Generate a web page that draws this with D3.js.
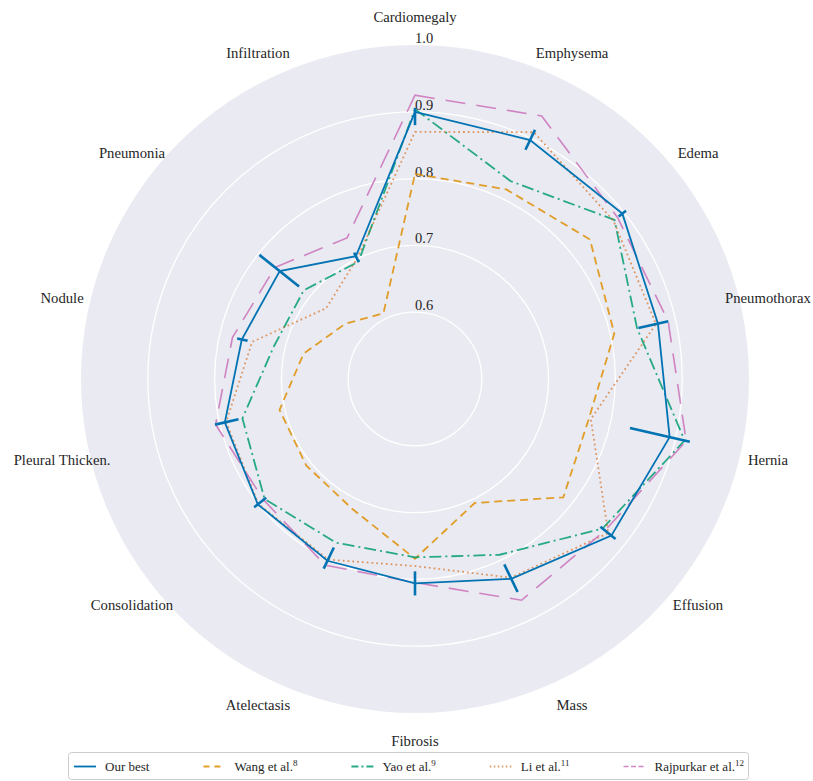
<!DOCTYPE html>
<html>
<head>
<meta charset="utf-8">
<script src="https://cdn.jsdelivr.net/npm/d3@7"></script>
<style>
  html, body { margin: 0; padding: 0; background: #ffffff; }
  svg { display: block; }
</style>
</head>
<body>
<svg id="chart" width="813" height="781"></svg>
<script>
// Disease categories, clockwise from the top
const categories = ["Cardiomegaly", "Emphysema", "Edema", "Pneumothorax", "Hernia", "Effusion",
  "Mass", "Fibrosis", "Atelectasis", "Consolidation", "Pleural Thicken.", "Nodule",
  "Pneumonia", "Infiltration"];

// AUC per category
const ourBest      = [0.900, 0.897, 0.897, 0.873, 0.891, 0.876, 0.832, 0.806, 0.802, 0.801, 0.792, 0.766, 0.759, 0.704];
const ourBestLower = [0.020, 0.016, 0.007, 0.030, 0.061, 0.021, 0.024, 0.018, 0.022, 0.016, 0.021, 0.009, 0.037, 0.010];
const ourBestUpper = [0.006, 0.017, 0.007, 0.016, 0.031, 0.008, 0.022, 0.018, 0.013, 0.007, 0.015, 0.007, 0.039, 0.006];
const wang         = [0.807, 0.815, 0.835, 0.806, 0.767, 0.784, 0.706, 0.769, 0.716, 0.708, 0.708, 0.671, 0.633, 0.609];
const yao          = [0.904, 0.829, 0.882, 0.841, 0.914, 0.859, 0.792, 0.767, 0.772, 0.788, 0.765, 0.717, 0.713, 0.695];
const li           = [0.87, 0.91, 0.88, 0.87, 0.77, 0.87, 0.83, 0.78, 0.80, 0.80, 0.79, 0.75, 0.67, 0.70];
const rajpurkar    = [0.9248, 0.9371, 0.8878, 0.8887, 0.9164, 0.8638, 0.8676, 0.8047, 0.8094, 0.7901, 0.8062, 0.7802, 0.7680, 0.7345];

// Radial ticks
const radialTicks = [0.6, 0.7, 0.8, 0.9, 1.0];
const radialDomain = [0.5, 1.0];

// Legend entries: [label, superscript]
const legendLabels = [["Our best", ""], ["Wang et al.", "8"], ["Yao et al.", "9"], ["Li et al.", "11"], ["Rajpurkar et al.", "12"]];

const FONT = "'Liberation Serif', 'Times New Roman', Times, 'DejaVu Serif', serif";
const svg = d3.select("#chart")
  .attr("font-family", FONT);
const cx = 415, cy = 379, R = 334;

const r = d3.scaleLinear().domain(radialDomain).range([0, R]);
const angle = d3.scaleLinear().domain([0, categories.length]).range([0, 2 * Math.PI]);

const g = svg.append("g").attr("transform", `translate(${cx},${cy})`);

// Axes background disk
g.append("circle").attr("r", r(1.0)).attr("fill", "#eaeaf2");

// Circular grid
g.selectAll("circle.grid")
  .data(radialTicks.filter(t => t < 1.0))
  .join("circle")
  .attr("class", "grid")
  .attr("r", d => r(d))
  .attr("fill", "none")
  .attr("stroke", "#ffffff")
  .attr("stroke-width", 1.3);

// Radial tick labels
g.selectAll("text.rtick")
  .data(radialTicks)
  .join("text")
  .attr("class", "rtick")
  .attr("font-family", FONT)
  .attr("fill", "#262626")
  .attr("x", 0)
  .attr("y", d => -r(d) - 2)
  .attr("font-size", 14.5)
  .text(d => d.toFixed(1));

// Category labels
const labelR = R + 28;
g.selectAll("text.cat")
  .data(categories)
  .join("text")
  .attr("class", "cat")
  .attr("font-family", FONT)
  .attr("fill", "#262626")
  .attr("x", (d, i) => labelR * Math.sin(angle(i)))
  .attr("y", (d, i) => -labelR * Math.cos(angle(i)))
  .attr("text-anchor", "middle")
  .attr("dominant-baseline", "central")
  .attr("font-size", 14.7)
  .text(d => d);

const radial = d3.lineRadial()
  .angle((d, i) => angle(i))
  .radius(d => r(d))
  .curve(d3.curveLinearClosed);

const series = [
  { values: wang,      color: "#de8f05", width: 1.8, dash: "8,5",      opacity: 0.85, legendDash: "6,5" },
  { values: yao,       color: "#029e73", width: 1.8, dash: "12,4,2,4", opacity: 0.85, legendDash: "7,3,2,3" },
  { values: li,        color: "#d55e00", width: 1.8, dash: "1.8,3",    opacity: 0.6,  legendDash: "1.5,2.5" },
  { values: rajpurkar, color: "#cc78bc", width: 1.6, dash: "20,11",    opacity: 0.9,  legendDash: "5,2.5" }
];

series.forEach(s => {
  g.append("path")
    .datum(s.values)
    .attr("d", radial)
    .attr("fill", "none")
    .attr("stroke", s.color)
    .attr("stroke-width", s.width)
    .attr("stroke-dasharray", s.dash)
    .attr("stroke-opacity", s.opacity);
});

// Our best with radial error bars
const blue = "#0173b2";
g.append("path")
  .datum(ourBest)
  .attr("d", radial)
  .attr("fill", "none")
  .attr("stroke", blue)
  .attr("stroke-width", 1.8);

g.selectAll("line.err")
  .data(ourBest)
  .join("line")
  .attr("class", "err")
  .attr("x1", (d, i) => r(d - ourBestLower[i]) * Math.sin(angle(i)))
  .attr("y1", (d, i) => -r(d - ourBestLower[i]) * Math.cos(angle(i)))
  .attr("x2", (d, i) => r(d + ourBestUpper[i]) * Math.sin(angle(i)))
  .attr("y2", (d, i) => -r(d + ourBestUpper[i]) * Math.cos(angle(i)))
  .attr("stroke", blue)
  .attr("stroke-width", 2.6);

// Legend: entries packed left to right with equal gaps across the frame
const lx = 68, ly = 752, lw = 680, lh = 27;
const legend = svg.append("g");
legend.append("rect")
  .attr("x", lx + 0.5).attr("y", ly + 0.5)
  .attr("width", lw).attr("height", lh)
  .attr("rx", 3)
  .attr("fill", "#ffffff").attr("fill-opacity", 0.85)
  .attr("stroke", "#cccccc").attr("stroke-width", 1);

const legendStyles = [{ color: blue, width: 1.8, dash: null, opacity: 1 }].concat(
  series.map(s => ({ color: s.color, width: s.width, dash: s.legendDash, opacity: s.opacity })));

const handleLen = 22, handlePad = 9, innerPad = 5;
const yMid = ly + lh / 2 + 1;
const items = legendLabels.map((lab, i) => {
  const item = legend.append("g");
  const st = legendStyles[i];
  item.append("line")
    .attr("x1", 0).attr("x2", handleLen)
    .attr("y1", yMid).attr("y2", yMid)
    .attr("stroke", st.color)
    .attr("stroke-width", st.width)
    .attr("stroke-opacity", st.opacity)
    .attr("stroke-dasharray", st.dash);
  const t = item.append("text")
    .attr("font-family", FONT)
    .attr("fill", "#262626")
    .attr("x", handleLen + handlePad)
    .attr("y", yMid + 4.5)
    .attr("font-size", 13);
  t.append("tspan").text(lab[0]);
  if (lab[1]) {
    t.append("tspan").attr("dy", -5).attr("font-size", 9).text(lab[1]);
  }
  const w = handleLen + handlePad + t.node().getComputedTextLength();
  return { item, w };
});
const totalW = d3.sum(items, d => d.w);
const gap = (lw - 2 * innerPad - totalW) / (items.length - 1);
let xPos = lx + innerPad + 1;
items.forEach(d => {
  d.item.attr("transform", `translate(${xPos},0)`);
  xPos += d.w + gap;
});
</script>
</body>
</html>
